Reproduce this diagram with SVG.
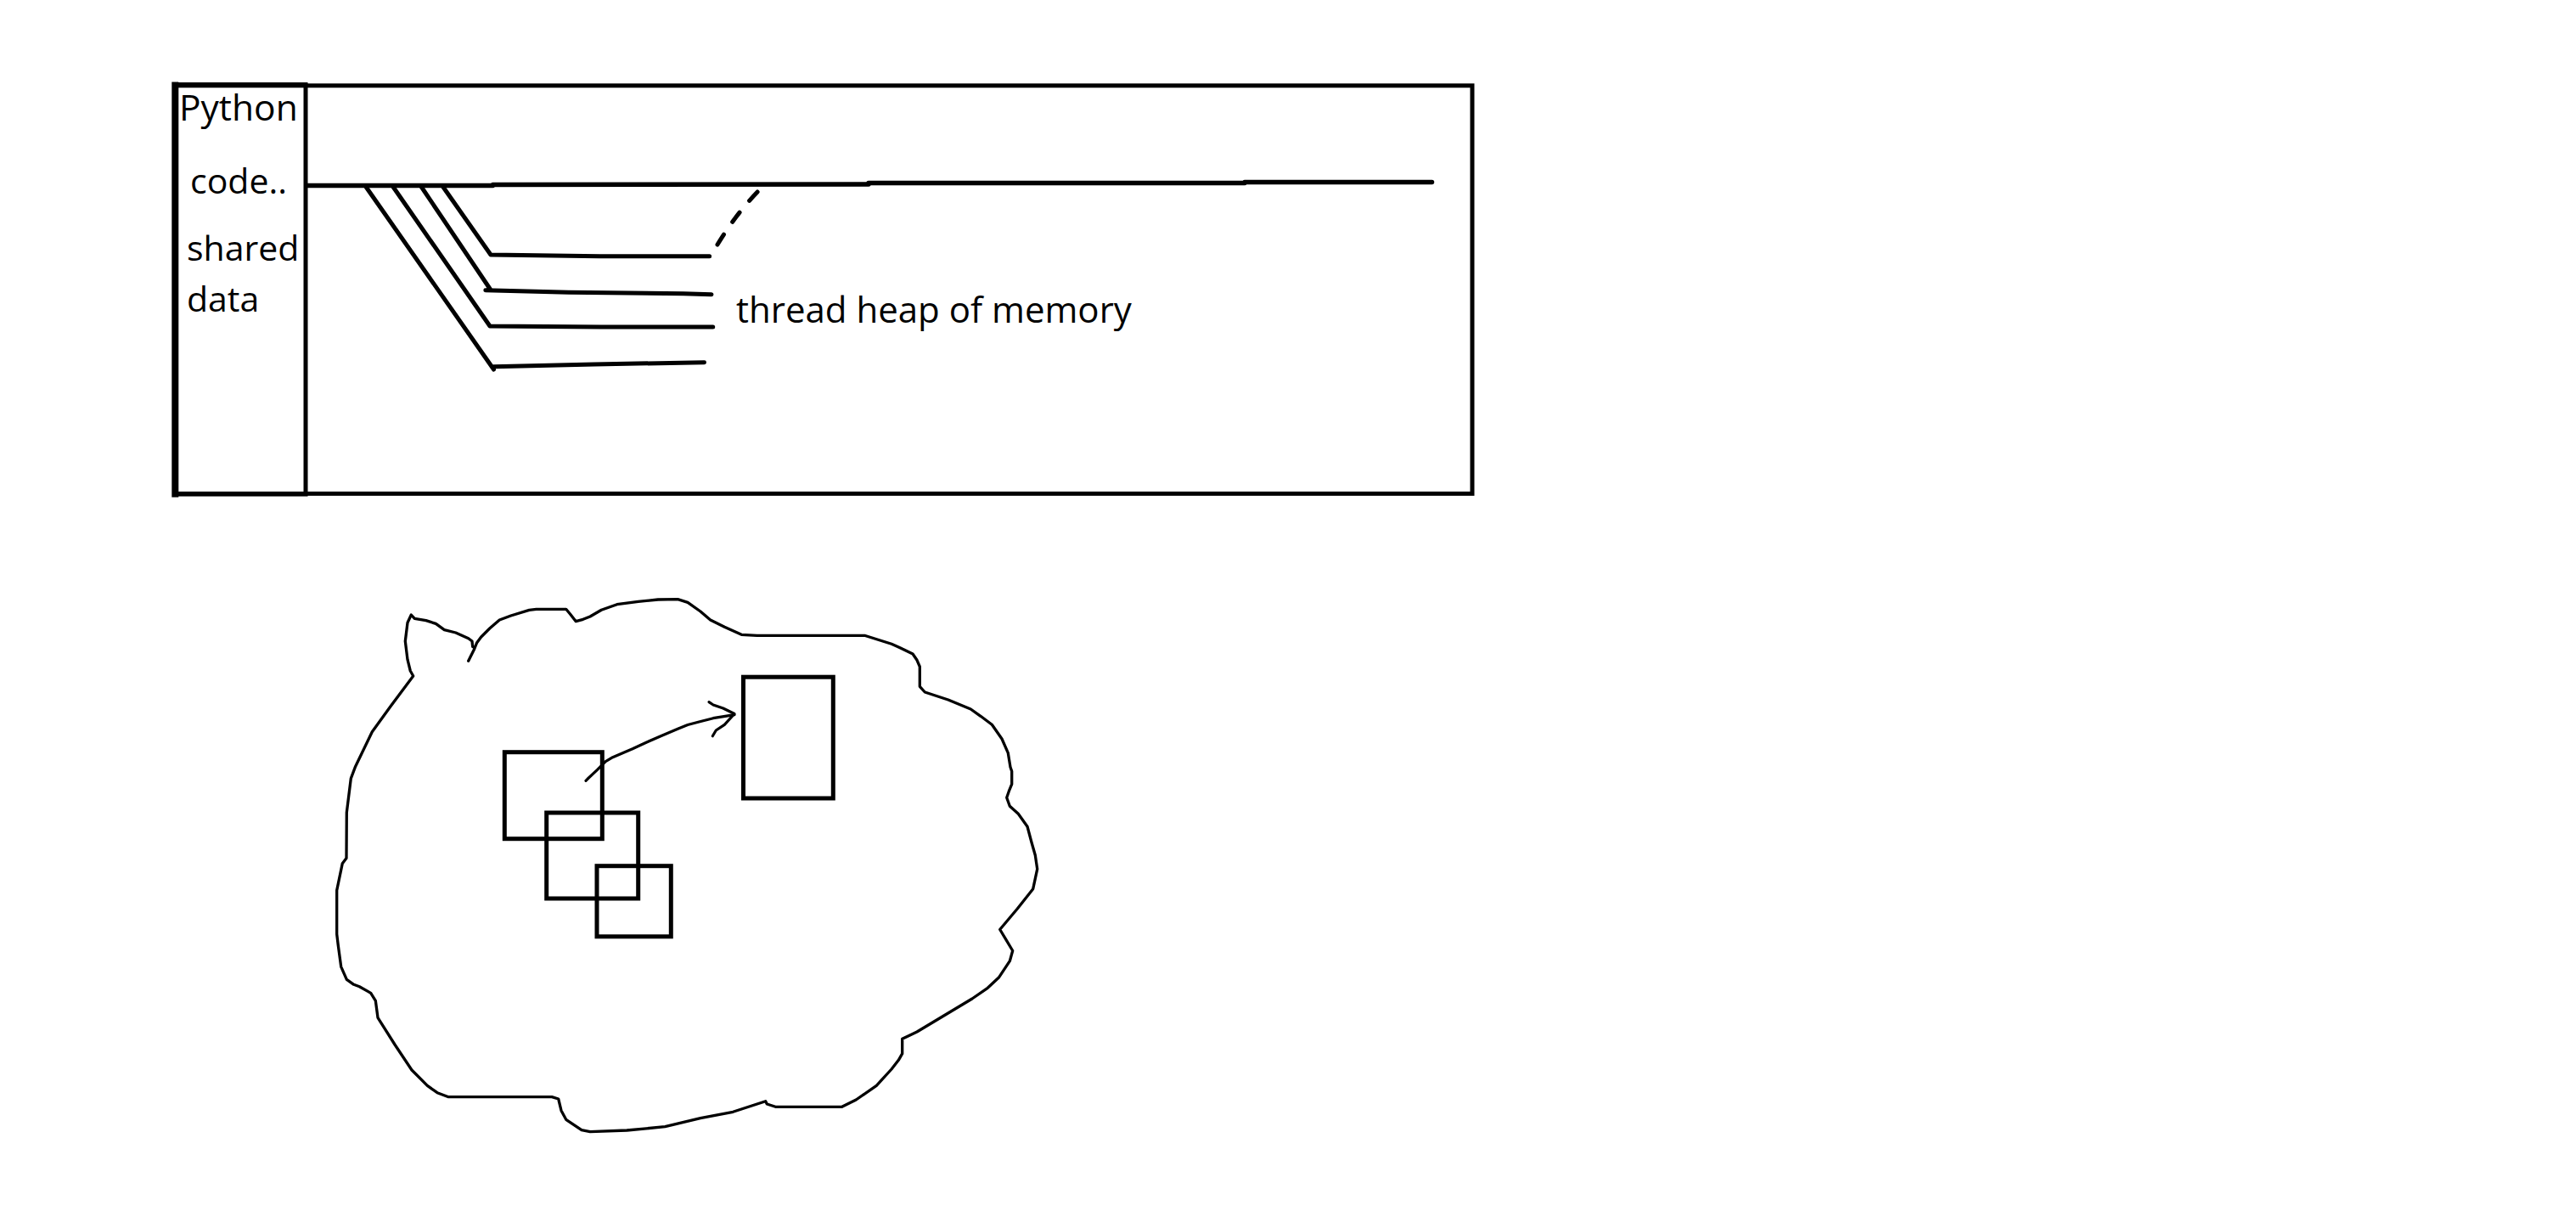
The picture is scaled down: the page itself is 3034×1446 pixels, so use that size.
<svg xmlns="http://www.w3.org/2000/svg" width="3034" height="1446" viewBox="0 0 3034 1446">
<style>
.ln{fill:none;stroke:#000;stroke-linecap:round;stroke-linejoin:round}
.box{fill:none;stroke:#000;stroke-width:5}
.lbl{font-family:"Open Sans","Noto Sans","Liberation Sans",sans-serif;fill:#000}
</style>
<rect width="3034" height="1446" fill="#fff"/>
<g id="process">
<rect x="206" y="100.8" width="1528" height="480.5" class="box" stroke-width="5.5"/>
</g>
<g id="code-pane">
<rect x="206.5" y="99.5" width="153.5" height="482.5" class="box" stroke-width="5.5"/>
<line x1="206.3" y1="96.5" x2="206.3" y2="585.5" stroke="#000" stroke-width="8"/>
<text class="lbl" x="211" y="141.7" font-size="42.5">Python</text>
<text class="lbl" x="224" y="228" font-size="41">code..</text>
<text class="lbl" x="220" y="306.7" font-size="41">shared</text>
<text class="lbl" x="220" y="366.7" font-size="41">data</text>
</g>
<g id="thread-label">
<text class="lbl" x="867" y="380" font-size="42">thread heap of memory</text>
</g>
<g id="connectors">
<path class="ln" stroke-width="5.5" d="M362 218.5 L580.5 218.5 L580.5 217.5 L1023 217 L1023 215.5 L1466 215.5 L1466 214.5 L1686.5 214.5"/>
<path class="ln" stroke-width="5" d="M521.8 220 L578 300 L706.5 301.7 L835.6 301.7"/>
<path class="ln" stroke-width="5" d="M496.3 220 L577 340 M571.8 341.7 L669.8 344.3 L805 345.7 L838 346.7"/>
<path class="ln" stroke-width="5" d="M463 220 L577 384 L708 385 L839.7 385"/>
<path class="ln" stroke-width="5" d="M431 220 L581.5 435 M581.5 431.7 L700 429 L829.5 426.7"/>
<path class="ln" stroke-width="5" stroke-dasharray="14 18" d="M845 288 Q 868 250 896 222"/>
<path class="ln" stroke-width="3.2" d="M690 919.3 L693.3 916 L703.3 906.7 L713.3 896.7 L721.7 891.7 L733.3 886.7 L745 881.7 L761.7 874 L778.3 866.7 L798.3 858.3 L810 853.5 L823.3 850 L840 845.7 L865 841.7"/>
<path class="ln" stroke-width="3.2" d="M835 826.7 L840 830 L851.7 834 L865 840.5 L853.3 853.3 L843.3 860 L839.3 866.7"/>
</g>
<g id="cloud">
<path class="ln" stroke-width="3.3" d="M551.7 778.3 L553.3 775 L558.3 765 L561.7 756.7 L566.7 750 L576.7 740 L588.3 730 L601.7 725 L623.3 718.3 L631.7 717.3 L666.7 717.3 L671.7 723.3 L678.3 731.7 L686.7 729.3 L695 726 L708.3 718.3 L726.7 711.7 L751.7 708.3 L775 706 L798.3 705.7 L810 709.3 L825 720 L836.7 730 L853.3 738.3 L873.3 747.3 L891.7 748.3 L1018.3 748.3 L1050 758.3 L1060 762.7 L1075 770 L1080 777.3 L1083.3 785 L1083.3 808.3 L1089.3 815 L1116.7 824 L1143.3 835 L1155 843.3 L1168.3 853.3 L1180 870 L1187.3 886.7 L1190 903.3 L1191.7 908.3 L1191.7 923.3 L1188.3 931.7 L1185.7 939.3 L1189.3 949.3 L1199.3 958.3 L1210 973.3 L1215 992 L1219.3 1007 L1221.7 1023.3 L1216.7 1046.7 L1198.3 1070 L1177.7 1094.5 L1185 1106.7 L1192.7 1119.5 L1189.3 1131.7 L1176.7 1150.7 L1163.3 1163.3 L1145 1176 L1080 1215 L1071.7 1219 L1062.7 1223.3 L1062.7 1240.7 L1058.3 1248.3 L1050 1259 L1032.3 1278.3 L1008.3 1295 L991.7 1303.3 L913.3 1303.3 L903.3 1300 L901.7 1296.7 L863.3 1309.3 L825 1316.7 L783.3 1326.7 L738.3 1331 L695 1332.7 L685 1330.7 L666.7 1318.3 L661 1307.7 L657.7 1294 L650 1291.7 L528.3 1291.7 L515 1286.7 L503.3 1278.3 L485 1260 L465 1230 L445 1198.3 L442.3 1178.3 L436.7 1169.3 L433.3 1167.3 L423.3 1161.7 L416.7 1159.3 L408.3 1153.3 L401.7 1138.3 L398.3 1113.3 L396.7 1100 L396.7 1048.3 L403.3 1016.7 L408 1010.5 L408.3 956.7 L413.3 916.7 L418.3 903.3 L438.3 861.7 L460 831.7 L486.7 796 L483.3 790 L480 776.7 L477.3 755 L480 733.3 L484.3 724 L488.3 728.3 L501.7 730.7 L513.3 734.3 L523.3 741.7 L536.7 745 L551.7 751.7 L556 755 L556.7 761.7"/>
</g>
<g id="object-a"><rect x="594.3" y="885.7" width="115" height="102" class="box"/></g>
<g id="object-b"><rect x="643.7" y="957" width="108" height="101" class="box"/></g>
<g id="object-c"><rect x="703" y="1019.7" width="87.3" height="83.1" class="box"/></g>
<g id="object-d"><rect x="875.5" y="797.2" width="105.8" height="142.8" class="box"/></g>
</svg>
